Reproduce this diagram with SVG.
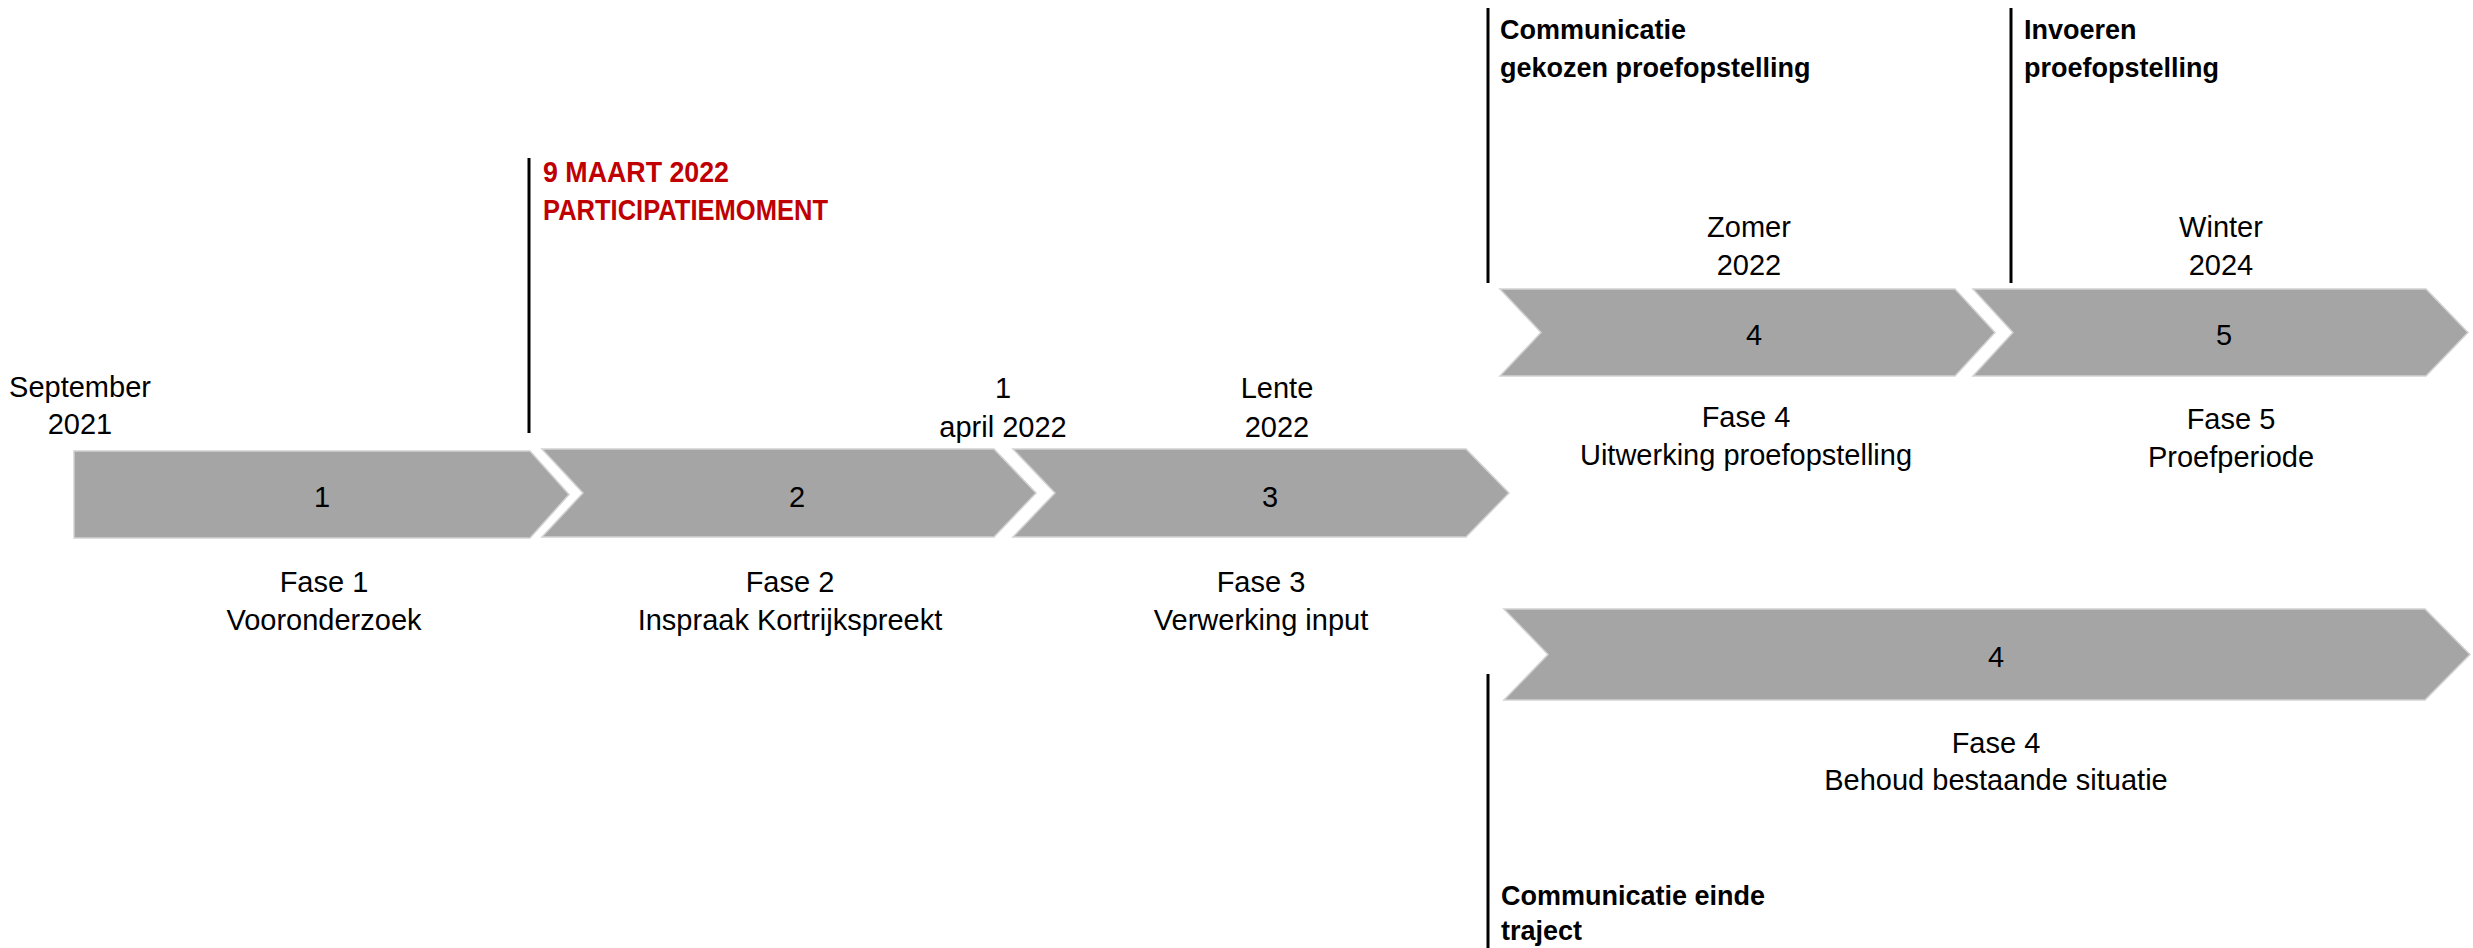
<svg xmlns="http://www.w3.org/2000/svg" width="2473" height="948" viewBox="0 0 2473 948">
<style>
.arrow{fill:#a5a5a6;stroke:#d2d2d2;stroke-width:1.5}
.t{font-family:"Liberation Sans",Arial,sans-serif;font-size:29px;fill:#000;text-anchor:middle}
.b{font-family:"Liberation Sans",Arial,sans-serif;font-size:27px;font-weight:bold;fill:#000}
.r{font-family:"Liberation Sans",Arial,sans-serif;font-size:30px;font-weight:bold;fill:#c00000}
.ln{stroke:#000;stroke-width:3;fill:none}
</style>
<rect width="2473" height="948" fill="#fff"/>
<g id="connectors">
<line class="ln" x1="529" y1="158" x2="529" y2="433"/>
<line class="ln" x1="1488" y1="8" x2="1488" y2="283"/>
<line class="ln" x1="2011" y1="8" x2="2011" y2="283"/>
<line class="ln" x1="1488" y1="674" x2="1488" y2="948"/>
</g>
<g id="fase1">
<polygon class="arrow" points="74,451 530,451 569,494.5 530,538 74,538"/>
<text class="t" x="322" y="507">1</text>
<text class="t" x="324" y="592">Fase 1</text>
<text class="t" x="324" y="630">Vooronderzoek</text>
</g>
<g id="fase2">
<polygon class="arrow" points="542,449 994,449 1036,493 994,537 542,537 583,493"/>
<text class="t" x="797" y="507">2</text>
<text class="t" x="790" y="592">Fase 2</text>
<text class="t" x="790" y="630">Inspraak Kortrijkspreekt</text>
</g>
<g id="fase3">
<polygon class="arrow" points="1013,449 1466,449 1509,493 1466,537 1013,537 1055,493"/>
<text class="t" x="1270" y="507">3</text>
<text class="t" x="1261" y="592">Fase 3</text>
<text class="t" x="1261" y="630">Verwerking input</text>
</g>
<g id="fase4a">
<polygon class="arrow" points="1500,289 1955,289 1995,332.5 1955,376 1500,376 1541,332.5"/>
<text class="t" x="1754" y="345">4</text>
<text class="t" x="1746" y="427">Fase 4</text>
<text class="t" x="1746" y="465">Uitwerking proefopstelling</text>
</g>
<g id="fase5">
<polygon class="arrow" points="1973,289 2426,289 2468,332.5 2426,376 1973,376 2013,332.5"/>
<text class="t" x="2224" y="345">5</text>
<text class="t" x="2231" y="429">Fase 5</text>
<text class="t" x="2231" y="467">Proefperiode</text>
</g>
<g id="fase4b">
<polygon class="arrow" points="1504,609 2425,609 2470,654.5 2425,700 1504,700 1548,654.5"/>
<text class="t" x="1996" y="667">4</text>
<text class="t" x="1996" y="753">Fase 4</text>
<text class="t" x="1996" y="790">Behoud bestaande situatie</text>
</g>
<g id="date-sep2021">
<text class="t" x="80" y="397">September</text>
<text class="t" x="80" y="434">2021</text>
</g>
<g id="date-april2022">
<text class="t" x="1003" y="398">1</text>
<text class="t" x="1003" y="437">april 2022</text>
</g>
<g id="date-lente2022">
<text class="t" x="1277" y="398">Lente</text>
<text class="t" x="1277" y="437">2022</text>
</g>
<g id="date-zomer2022">
<text class="t" x="1749" y="237">Zomer</text>
<text class="t" x="1749" y="275">2022</text>
</g>
<g id="date-winter2024">
<text class="t" x="2221" y="237">Winter</text>
<text class="t" x="2221" y="275">2024</text>
</g>
<g id="milestone-participatie">
<text class="r" x="543" y="182" textLength="186" lengthAdjust="spacingAndGlyphs">9 MAART 2022</text>
<text class="r" x="543" y="220" textLength="285" lengthAdjust="spacingAndGlyphs">PARTICIPATIEMOMENT</text>
</g>
<g id="milestone-communicatie">
<text class="b" x="1500" y="39">Communicatie</text>
<text class="b" x="1500" y="77">gekozen proefopstelling</text>
</g>
<g id="milestone-invoeren">
<text class="b" x="2024" y="39">Invoeren</text>
<text class="b" x="2024" y="77">proefopstelling</text>
</g>
<g id="milestone-einde">
<text class="b" x="1501" y="905">Communicatie einde</text>
<text class="b" x="1501" y="940">traject</text>
</g>
</svg>
